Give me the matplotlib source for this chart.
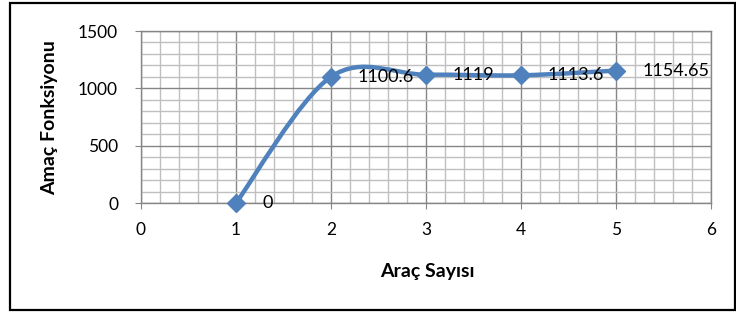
import numpy as np
import matplotlib
matplotlib.use("Agg")
import matplotlib.pyplot as plt
from matplotlib.path import Path
from matplotlib.patches import PathPatch, Rectangle
from matplotlib.ticker import MultipleLocator

arac_sayisi = [1, 2, 3, 4, 5]
amac_fonksiyonu = [0, 1100.6, 1119, 1113.6, 1154.65]
labels = ["0", "1100.6", "1119", "1113.6", "1154.65"]

plt.rcParams['font.family'] = ['Lato', 'DejaVu Sans']

fig = plt.figure(figsize=(7.36, 3.13), dpi=100)
ax = fig.add_axes([141/736, 1-203/313, (711-141)/736, (203-31)/313])

# Excel-like smoothed line (cubic Bezier through points)
xs = np.array(arac_sayisi, float)
ys = np.array(amac_fonksiyonu, float)
n = len(xs)
verts = [(xs[0], ys[0])]
codes = [Path.MOVETO]
for i in range(n - 1):
    p0 = np.array([xs[max(i-1, 0)], ys[max(i-1, 0)]])
    p1 = np.array([xs[i], ys[i]])
    p2 = np.array([xs[i+1], ys[i+1]])
    p3 = np.array([xs[min(i+2, n-1)], ys[min(i+2, n-1)]])
    c1 = p1 + (p2 - p0) / 6.0
    c2 = p2 - (p3 - p1) / 6.0
    verts += [tuple(c1), tuple(c2), tuple(p2)]
    codes += [Path.CURVE4] * 3
ax.add_patch(PathPatch(Path(verts, codes), facecolor='none', edgecolor='#4F81BD',
                       lw=3.2, zorder=3, capstyle='round', joinstyle='round'))
ax.plot(xs, ys, linestyle='none', marker='D', ms=9, color='#4F81BD', zorder=4, clip_on=False)

for x, y, t in zip(xs, ys, labels):
    ax.annotate(t, (x, y), xytext=(19, 0), textcoords='offset points',
                ha='left', va='center', fontsize=13, color='black', zorder=5)

ax.set_xlim(0, 6)
ax.set_ylim(0, 1500)
ax.xaxis.set_major_locator(MultipleLocator(1))
ax.xaxis.set_minor_locator(MultipleLocator(0.2))
ax.yaxis.set_major_locator(MultipleLocator(500))
ax.yaxis.set_minor_locator(MultipleLocator(100))
ax.grid(which='minor', color='#BFBFBF', lw=1.0, zorder=0)
ax.grid(which='major', color='#868686', lw=1.0, zorder=1)
ax.set_axisbelow(True)
for s in ax.spines.values():
    s.set_color('#868686')
    s.set_linewidth(1.0)
ax.tick_params(which='major', length=4.5, color='#868686', labelsize=12.5)
ax.tick_params(axis='y', pad=12)
ax.tick_params(axis='x', pad=9)
ax.tick_params(which='minor', length=0)

ax.set_xlabel('Araç Sayısı', fontsize=14, fontweight='bold')
ax.set_ylabel('Amaç Fonksiyonu', fontsize=14, fontweight='bold')
fig_w, fig_h = 736, 313
ax.xaxis.set_label_coords((427.0 - 141) / 570, (203 - 263.0) / 172)
ax.yaxis.set_label_coords((58.0 - 141) / 570, (203 - 118.0) / 172)

fig.patches.append(Rectangle((10/736, 3/313), (735-10)/736, (310-3)/313,
                             transform=fig.transFigure, fill=False, ec='black', lw=1.6))

fig.savefig('out.png', dpi=100)
